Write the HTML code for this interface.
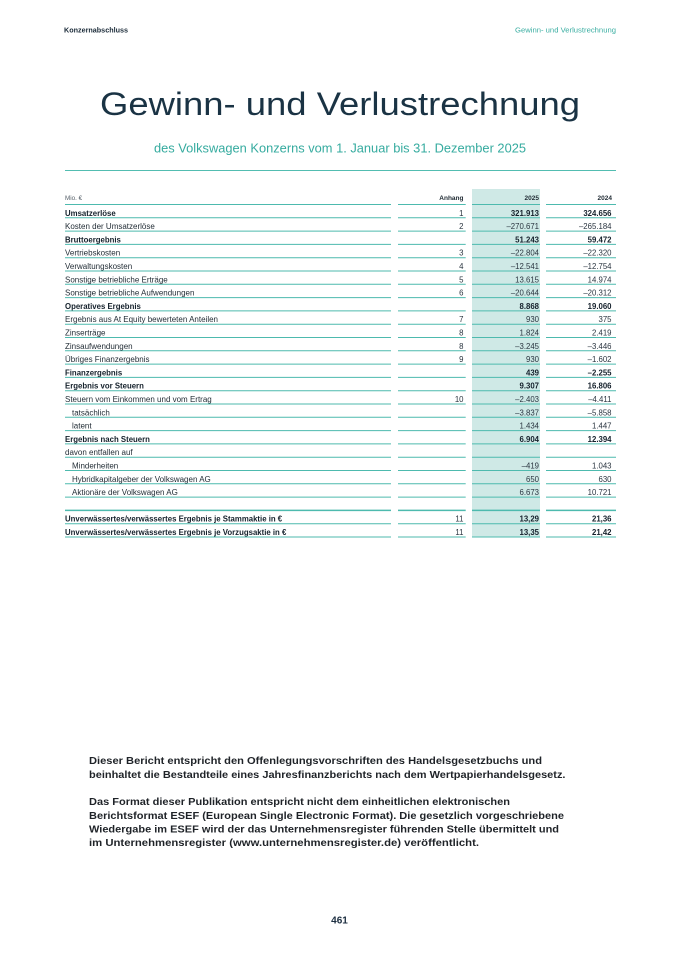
<!DOCTYPE html>
<html><head><meta charset="utf-8"><style>
html,body{margin:0;padding:0;background:#fff;}
svg{display:block;}
text{font-family:"Liberation Sans",Arial,sans-serif;}
.lb{font-size:8px;fill:#1f2a33;}
.lbb{font-size:7.8px;fill:#14202b;font-weight:bold;}
.n{font-size:7.8px;fill:#2a3540;text-anchor:end;}
.nb{font-size:7.8px;fill:#14202b;font-weight:bold;text-anchor:end;}
.h{font-size:6.5px;fill:#1f2a33;font-weight:bold;text-anchor:end;}
.ft{font-size:10px;fill:#1f2328;font-weight:bold;}
</style></head><body>
<svg width="679" height="960" viewBox="0 0 679 960" xmlns="http://www.w3.org/2000/svg">
<rect width="679" height="960" fill="#fff"/>
<!-- header -->
<text x="64" y="32.5" font-size="7px" font-weight="bold" fill="#1a2a38" textLength="64" lengthAdjust="spacingAndGlyphs">Konzernabschluss</text>
<text x="515" y="32.5" font-size="7px" fill="#3aaea2" textLength="101" lengthAdjust="spacingAndGlyphs">Gewinn- und Verlustrechnung</text>
<!-- title -->
<text x="100" y="115" font-size="32px" fill="#1a3344" textLength="480" lengthAdjust="spacingAndGlyphs">Gewinn- und Verlustrechnung</text>
<text x="154" y="152.7" font-size="12.5px" fill="#35ab9f" textLength="372" lengthAdjust="spacingAndGlyphs">des Volkswagen Konzerns vom 1. Januar bis 31. Dezember 2025</text>
<line x1="65" y1="170.5" x2="616" y2="170.5" stroke="#52bdb1" stroke-width="1"/>
<!-- shade -->
<rect x="472" y="189" width="68" height="348.5" fill="#cfe9e6"/>
<!-- table header -->
<text x="65" y="200" font-size="6.3px" fill="#555f68">Mio. €</text>
<text class="h" x="463.5" y="200">Anhang</text>
<text class="h" x="539" y="200">2025</text>
<text class="h" x="612" y="200">2024</text>
<!-- lines -->
<g stroke="#4dbaae" stroke-width="1" fill="none">
<path d="M65 204.5H391M398 204.5H465.7M472 204.5H540M546 204.5H616"/>
<path d="M65 217.8H391M398 217.8H465.7M472 217.8H540M546 217.8H616"/>
<path d="M65 231.1H391M398 231.1H465.7M472 231.1H540M546 231.1H616"/>
<path d="M65 244.4H391M398 244.4H465.7M472 244.4H540M546 244.4H616"/>
<path d="M65 257.7H391M398 257.7H465.7M472 257.7H540M546 257.7H616"/>
<path d="M65 271.0H391M398 271.0H465.7M472 271.0H540M546 271.0H616"/>
<path d="M65 284.3H391M398 284.3H465.7M472 284.3H540M546 284.3H616"/>
<path d="M65 297.6H391M398 297.6H465.7M472 297.6H540M546 297.6H616"/>
<path d="M65 310.9H391M398 310.9H465.7M472 310.9H540M546 310.9H616"/>
<path d="M65 324.2H391M398 324.2H465.7M472 324.2H540M546 324.2H616"/>
<path d="M65 337.5H391M398 337.5H465.7M472 337.5H540M546 337.5H616"/>
<path d="M65 350.8H391M398 350.8H465.7M472 350.8H540M546 350.8H616"/>
<path d="M65 364.1H391M398 364.1H465.7M472 364.1H540M546 364.1H616"/>
<path d="M65 377.4H391M398 377.4H465.7M472 377.4H540M546 377.4H616"/>
<path d="M65 390.7H391M398 390.7H465.7M472 390.7H540M546 390.7H616"/>
<path d="M65 404.0H391M398 404.0H465.7M472 404.0H540M546 404.0H616"/>
<path d="M65 417.3H391M398 417.3H465.7M472 417.3H540M546 417.3H616"/>
<path d="M65 430.6H391M398 430.6H465.7M472 430.6H540M546 430.6H616"/>
<path d="M65 443.9H391M398 443.9H465.7M472 443.9H540M546 443.9H616"/>
<path d="M65 457.2H391M398 457.2H465.7M472 457.2H540M546 457.2H616"/>
<path d="M65 470.5H391M398 470.5H465.7M472 470.5H540M546 470.5H616"/>
<path d="M65 483.8H391M398 483.8H465.7M472 483.8H540M546 483.8H616"/>
<path d="M65 497.1H391M398 497.1H465.7M472 497.1H540M546 497.1H616"/>
<path d="M65 510.4H391M398 510.4H465.7M472 510.4H540M546 510.4H616" stroke-width="1.5"/>
<path d="M65 523.7H391M398 523.7H465.7M472 523.7H540M546 523.7H616"/>
<path d="M65 537.0H391M398 537.0H465.7M472 537.0H540M546 537.0H616"/>
</g>
<!-- labels -->
<text class="lbb" x="65" y="215.8">Umsatzerlöse</text>
<text class="lb" x="65" y="229.1">Kosten der Umsatzerlöse</text>
<text class="lbb" x="65" y="242.4">Bruttoergebnis</text>
<text class="lb" x="65" y="255.7">Vertriebskosten</text>
<text class="lb" x="65" y="269.0">Verwaltungskosten</text>
<text class="lb" x="65" y="282.3">Sonstige betriebliche Erträge</text>
<text class="lb" x="65" y="295.6">Sonstige betriebliche Aufwendungen</text>
<text class="lbb" x="65" y="308.9">Operatives Ergebnis</text>
<text class="lb" x="65" y="322.2">Ergebnis aus At Equity bewerteten Anteilen</text>
<text class="lb" x="65" y="335.5">Zinserträge</text>
<text class="lb" x="65" y="348.8">Zinsaufwendungen</text>
<text class="lb" x="65" y="362.1">Übriges Finanzergebnis</text>
<text class="lbb" x="65" y="375.4">Finanzergebnis</text>
<text class="lbb" x="65" y="388.7">Ergebnis vor Steuern</text>
<text class="lb" x="65" y="402.0">Steuern vom Einkommen und vom Ertrag</text>
<text class="lb" x="72" y="415.3">tatsächlich</text>
<text class="lb" x="72" y="428.6">latent</text>
<text class="lbb" x="65" y="441.9">Ergebnis nach Steuern</text>
<text class="lb" x="65" y="455.2">davon entfallen auf</text>
<text class="lb" x="72" y="468.5">Minderheiten</text>
<text class="lb" x="72" y="481.8">Hybridkapitalgeber der Volkswagen AG</text>
<text class="lb" x="72" y="495.1">Aktionäre der Volkswagen AG</text>
<text class="lbb" x="65" y="521.7">Unverwässertes/verwässertes Ergebnis je Stammaktie in €</text>
<text class="lbb" x="65" y="535.0">Unverwässertes/verwässertes Ergebnis je Vorzugsaktie in €</text>
<!-- Anhang -->
<g>
<text class="n" x="463.5" y="215.8">1</text>
<text class="n" x="463.5" y="229.1">2</text>
<text class="n" x="463.5" y="255.7">3</text>
<text class="n" x="463.5" y="269.0">4</text>
<text class="n" x="463.5" y="282.3">5</text>
<text class="n" x="463.5" y="295.6">6</text>
<text class="n" x="463.5" y="322.2">7</text>
<text class="n" x="463.5" y="335.5">8</text>
<text class="n" x="463.5" y="348.8">8</text>
<text class="n" x="463.5" y="362.1">9</text>
<text class="n" x="463.5" y="402.0">10</text>
<text class="n" x="463.5" y="521.7">11</text>
<text class="n" x="463.5" y="535.0">11</text>
</g>
<!-- 2025 -->
<g>
<text class="nb" x="539" y="215.8">321.913</text>
<text class="n" x="539" y="229.1">–270.671</text>
<text class="nb" x="539" y="242.4">51.243</text>
<text class="n" x="539" y="255.7">–22.804</text>
<text class="n" x="539" y="269.0">–12.541</text>
<text class="n" x="539" y="282.3">13.615</text>
<text class="n" x="539" y="295.6">–20.644</text>
<text class="nb" x="539" y="308.9">8.868</text>
<text class="n" x="539" y="322.2">930</text>
<text class="n" x="539" y="335.5">1.824</text>
<text class="n" x="539" y="348.8">–3.245</text>
<text class="n" x="539" y="362.1">930</text>
<text class="nb" x="539" y="375.4">439</text>
<text class="nb" x="539" y="388.7">9.307</text>
<text class="n" x="539" y="402.0">–2.403</text>
<text class="n" x="539" y="415.3">–3.837</text>
<text class="n" x="539" y="428.6">1.434</text>
<text class="nb" x="539" y="441.9">6.904</text>
<text class="n" x="539" y="468.5">–419</text>
<text class="n" x="539" y="481.8">650</text>
<text class="n" x="539" y="495.1">6.673</text>
<text class="nb" x="539" y="521.7">13,29</text>
<text class="nb" x="539" y="535.0">13,35</text>
</g>
<!-- 2024 -->
<g>
<text class="nb" x="611.5" y="215.8">324.656</text>
<text class="n" x="611.5" y="229.1">–265.184</text>
<text class="nb" x="611.5" y="242.4">59.472</text>
<text class="n" x="611.5" y="255.7">–22.320</text>
<text class="n" x="611.5" y="269.0">–12.754</text>
<text class="n" x="611.5" y="282.3">14.974</text>
<text class="n" x="611.5" y="295.6">–20.312</text>
<text class="nb" x="611.5" y="308.9">19.060</text>
<text class="n" x="611.5" y="322.2">375</text>
<text class="n" x="611.5" y="335.5">2.419</text>
<text class="n" x="611.5" y="348.8">–3.446</text>
<text class="n" x="611.5" y="362.1">–1.602</text>
<text class="nb" x="611.5" y="375.4">–2.255</text>
<text class="nb" x="611.5" y="388.7">16.806</text>
<text class="n" x="611.5" y="402.0">–4.411</text>
<text class="n" x="611.5" y="415.3">–5.858</text>
<text class="n" x="611.5" y="428.6">1.447</text>
<text class="nb" x="611.5" y="441.9">12.394</text>
<text class="n" x="611.5" y="468.5">1.043</text>
<text class="n" x="611.5" y="481.8">630</text>
<text class="n" x="611.5" y="495.1">10.721</text>
<text class="nb" x="611.5" y="521.7">21,36</text>
<text class="nb" x="611.5" y="535.0">21,42</text>
</g>
<!-- footer text -->
<text class="ft" x="89" y="764.2" textLength="453" lengthAdjust="spacingAndGlyphs">Dieser Bericht entspricht den Offenlegungsvorschriften des Handelsgesetzbuchs und</text>
<text class="ft" x="89" y="777.8" textLength="476.5" lengthAdjust="spacingAndGlyphs">beinhaltet die Bestandteile eines Jahresfinanzberichts nach dem Wertpapierhandelsgesetz.</text>
<text class="ft" x="89" y="805.2" textLength="421" lengthAdjust="spacingAndGlyphs">Das Format dieser Publikation entspricht nicht dem einheitlichen elektronischen</text>
<text class="ft" x="89" y="818.8" textLength="475" lengthAdjust="spacingAndGlyphs">Berichtsformat ESEF (European Single Electronic Format). Die gesetzlich vorgeschriebene</text>
<text class="ft" x="89" y="832.4" textLength="470" lengthAdjust="spacingAndGlyphs">Wiedergabe im ESEF wird der das Unternehmensregister führenden Stelle übermittelt und</text>
<text class="ft" x="89" y="846" textLength="390" lengthAdjust="spacingAndGlyphs">im Unternehmensregister (www.unternehmensregister.de) veröffentlicht.</text>
<!-- page number -->
<text x="339.5" y="923.5" font-size="10px" font-weight="bold" fill="#1c2e40" text-anchor="middle">461</text>
</svg>
</body></html>
